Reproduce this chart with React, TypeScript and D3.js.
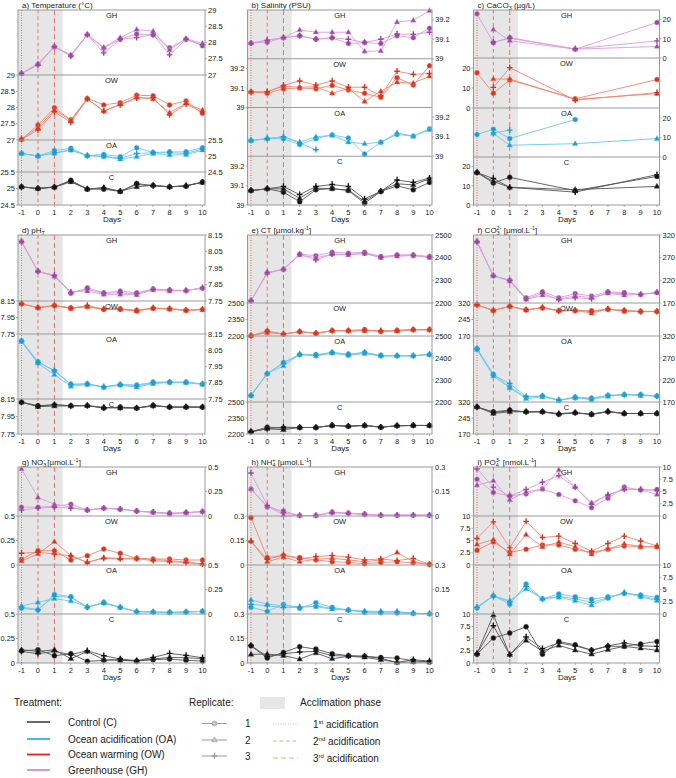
import React from "react";
import * as d3 from "d3";

// ---------- axes / categories ----------
const days = [-1, 0, 1, 2, 3, 4, 5, 6, 7, 8, 9, 10];
const daysCaCO3 = [-1, 0, 1, 5, 10];
const treatments = ["GH", "OW", "OA", "C"];
const replicateShapes = ["circle", "triangle", "plus"];

// ---------- a) Temperature ----------
const tempGH = [
  [27.05, 27.33, 27.87, 27.6, 28.24, 27.83, 28.1, 28.26, 28.23, 27.84, 28.1, 27.9],
  [27.05, 27.35, 27.87, 27.62, 28.24, 27.85, 28.15, 28.4, 28.35, 27.77, 28.12, 27.97],
  [27.05, 27.3, 27.87, 27.58, 28.24, 27.68, 28.1, 28.15, 28.25, 27.62, 28.1, 27.93],
];
const tempOW = [
  [27.02, 27.46, 27.99, 27.62, 28.28, 28.08, 28.15, 28.38, 28.36, 28.08, 28.2, 27.82],
  [27.02, 27.38, 27.92, 27.6, 28.26, 27.89, 28.1, 28.31, 28.26, 27.84, 28.13, 27.92],
  [27.02, 27.31, 27.87, 27.54, 28.26, 27.89, 28.08, 28.29, 28.3, 27.77, 28.1, 27.86],
];
const tempOA = [
  [25.08, 25.0, 25.17, 25.24, 25.01, 25.05, 24.98, 25.26, 25.11, 25.13, 25.13, 25.26],
  [25.08, 25.0, 25.08, 25.18, 25.01, 24.98, 24.9, 24.98, 25.08, 25.03, 25.04, 25.18],
  [25.08, 25.0, 25.1, 25.2, 25.01, 25.0, 24.93, 25.08, 25.1, 25.1, 25.08, 25.22],
];
const tempC = [
  [25.05, 25.0, 25.04, 25.25, 24.98, 24.98, 24.91, 25.15, 25.09, 25.05, 25.07, 25.2],
  [25.05, 25.0, 25.04, 25.2, 24.98, 25.03, 24.91, 25.05, 25.1, 25.05, 25.09, 25.18],
  [25.05, 25.0, 25.05, 25.22, 24.99, 25.01, 24.92, 25.12, 25.08, 25.05, 25.08, 25.19],
];
const tempTicksWarm = [29, 28.5, 28, 27.5, 27];
const tempTicksAmb = [25.5, 25, 24.5];

// ---------- b) Salinity ----------
const salGH = [
  [39.08, 39.085, 39.108, 39.118, 39.1, 39.108, 39.078, 39.083, 39.078, 39.118, 39.108, 39.157],
  [39.08, 39.095, 39.108, 39.148, 39.136, 39.136, 39.136, 39.038, 39.04, 39.188, 39.197, 39.247],
  [39.08, 39.095, 39.108, 39.118, 39.1, 39.108, 39.1, 39.083, 39.1, 39.127, 39.125, 39.136],
];
const salOW = [
  [39.08, 39.073, 39.096, 39.1, 39.096, 39.113, 39.09, 39.073, 39.052, 39.153, 39.115, 39.214],
  [39.08, 39.08, 39.11, 39.104, 39.107, 39.073, 39.098, 39.031, 39.083, 39.13, 39.125, 39.16],
  [39.08, 39.08, 39.113, 39.136, 39.115, 39.136, 39.104, 39.104, 39.06, 39.186, 39.17, 39.174],
];
const salOA = [
  [39.081, 39.09, 39.09, 39.06, 39.09, 39.11, 39.093, 39.012, 39.072, 39.112, 39.103, 39.141],
  [39.081, 39.09, 39.1, 39.072, 39.1, 39.107, 39.072, 39.064, 39.072, 39.12, 39.103, 39.136],
  [39.081, 39.09, 39.1, 39.068, 39.033, null, null, null, null, null, null, null],
];
const salC = [
  [39.074, 39.083, 39.066, 39.017, 39.078, 39.084, 39.074, 39.009, 39.069, 39.098, 39.078, 39.116],
  [39.074, 39.083, 39.083, 39.034, 39.086, 39.084, 39.076, 39.019, 39.072, 39.109, 39.103, 39.134],
  [39.074, 39.083, 39.095, 39.053, 39.095, 39.105, 39.095, 39.031, 39.07, 39.128, 39.116, 39.138],
];
const salTicks = [39.2, 39.1, 39];

// ---------- c) CaCO3 (days -1, 0, 1, 5, 10) ----------
const cacoGH = [
  [23, 8, 10.6, 4.6, 18.5],
  [null, 14.9, 9, 4.6, 6],
  [null, 8.2, 10.3, 4.8, 8.9],
];
const cacoOW = [
  [17.6, 7.4, 14, 4.6, 14.2],
  [null, 14.5, 14.5, 4.3, 7.2],
  [null, 10.3, 20.2, 3.9, 7.7],
];
const cacoOA = [
  [11.5, 14.2, 9.4, 19.1, null],
  [null, 12, 6, 6.8, 9.4],
  [null, 12.3, 13.7, null, null],
];
const cacoC = [
  [16.9, 11.5, 14.4, 7.5, 14.9],
  [16.9, 12.3, 9.2, 8, 9.7],
  [16.9, 13.8, 9.2, 6.7, 15.8],
];
const cacoTicks = [20, 10, 0];

// ---------- d) pH ----------
const phGH = [
  [8.11, 7.93, 7.9, 7.797, 7.83, 7.8, 7.81, 7.8, 7.823, 7.817, 7.813, 7.828],
  [8.11, 7.93, 7.9, 7.807, 7.81, 7.79, 7.79, 7.787, 7.817, 7.81, 7.813, 7.828],
  [8.11, 7.93, 7.906, 7.8, 7.82, 7.796, 7.8, 7.793, 7.82, 7.815, 7.813, 7.83],
];
const phOW = [
  [8.117, 8.068, 8.096, 8.068, 8.08, 8.047, 8.055, 8.039, 8.063, 8.055, 8.039, 8.047],
  [8.117, 8.068, 8.096, 8.058, 8.08, 8.055, 8.047, 8.026, 8.06, 8.05, 8.035, 8.045],
  [8.117, 8.07, 8.096, 8.063, 8.096, 8.05, 8.05, 8.032, 8.065, 8.058, 8.039, 8.05],
];
const phOA = [
  [8.109, 7.98, 7.923, 7.842, 7.844, 7.823, 7.84, 7.836, 7.854, 7.854, 7.854, 7.842],
  [8.103, 7.97, 7.899, 7.828, 7.838, 7.823, 7.835, 7.823, 7.844, 7.852, 7.85, 7.84],
  [8.105, 7.975, 7.925, 7.838, 7.842, 7.825, 7.838, 7.83, 7.85, 7.854, 7.852, 7.843],
];
const phC = [
  [8.114, 8.074, 8.082, 8.074, 8.074, 8.046, 8.058, 8.046, 8.078, 8.058, 8.058, 8.058],
  [8.114, 8.062, 8.07, 8.07, 8.074, 8.054, 8.046, 8.046, 8.07, 8.058, 8.058, 8.058],
  [8.114, 8.068, 8.086, 8.072, 8.074, 8.05, 8.052, 8.048, 8.074, 8.058, 8.058, 8.058],
];
const phTicksFine = [8.15, 8.05, 7.95, 7.85, 7.75];
const phTicksCoarse = [8.15, 7.95, 7.75];

// ---------- e) CT ----------
const ctGH = [
  [2210, 2333, 2348, 2415, 2409, 2424, 2420, 2424, 2405, 2412, 2412, 2405],
  [2210, 2333, 2351, 2412, 2400, 2415, 2412, 2418, 2400, 2406, 2409, 2400],
  [2210, 2333, 2348, 2415, 2390, 2415, 2415, 2420, 2402, 2410, 2410, 2403],
];
const ctOW = [
  [2203, 2246, 2218, 2240, 2224, 2249, 2249, 2258, 2240, 2252, 2258, 2258],
  [2203, 2230, 2218, 2238, 2224, 2246, 2246, 2246, 2249, 2243, 2255, 2255],
  [2203, 2240, 2218, 2240, 2226, 2249, 2249, 2252, 2245, 2248, 2258, 2258],
];
const ctOA = [
  [2230, 2329, 2380, 2416, 2416, 2425, 2418, 2425, 2412, 2410, 2410, 2416],
  [2230, 2329, 2364, 2416, 2409, 2422, 2412, 2420, 2409, 2410, 2410, 2416],
  [2230, 2329, 2375, 2416, 2412, 2425, 2415, 2425, 2410, 2410, 2410, 2416],
];
const ctC = [
  [2221, 2264, 2255, 2261, 2261, 2280, 2273, 2280, 2264, 2277, 2280, 2280],
  [2221, 2249, 2240, 2261, 2261, 2280, 2273, 2280, 2264, 2277, 2280, 2280],
  [2221, 2249, 2264, 2261, 2261, 2280, 2273, 2280, 2264, 2277, 2280, 2280],
];
const ctTicksFine = [2500, 2400, 2300, 2200];
const ctTicksCoarse = [2500, 2350, 2200];

// ---------- f) CO3 ----------
const co3GH = [
  [305, 230, 220, 181.5, 195, 181.5, 190.8, 185.4, 194.6, 193, 189, 193],
  [305, 230, 218, 177.7, 187, 179, 185.4, 182, 191.5, 187, 189, 193],
  [305, 230, 220, 179, 191, 177.5, 181.5, 179, 193, 190, 189, 193],
];
const co3OW = [
  [312, 286, 305, 289, 297, 285, 286, 285, 292, 286, 282, 282],
  [312, 286, 305, 287, 301, 285, 286, 274, 292, 282, 282, 282],
  [312, 286, 305, 289, 299, 283, 286, 280, 292, 286, 281, 280],
];
const co3OA = [
  [291.8, 233, 204, 181, 183.7, 174, 181.4, 179, 185, 186.8, 186.8, 183.7],
  [289, 229, 202, 177.6, 181.4, 174, 179, 175.3, 182.6, 186.8, 184.5, 183.7],
  [290.5, 231, 212, 182.6, 183.7, 174.5, 180, 177, 185, 186, 186, 183],
];
const co3C = [
  [297, 274, 282, 274, 274, 262, 269.5, 262, 274, 266, 266, 266],
  [297, 266, 274, 274, 274, 266, 269.5, 262, 277, 266, 266, 266],
  [297, 270, 279, 274, 274, 264, 269.5, 262, 275, 266, 266, 266],
];
const co3TicksFine = [320, 270, 220, 170];
const co3TicksCoarse = [320, 245, 170];

// ---------- g) NO3 ----------
const no3GH = [
  [0.09, 0.09, 0.1, 0.12, 0.06, 0.08, 0.07, 0.05, 0.04, 0.03, 0.035, 0.045],
  [0.48, 0.19, 0.12, 0.09, 0.06, 0.08, 0.07, 0.05, 0.035, 0.02, 0.03, 0.045],
  [0.06, 0.08, 0.09, 0.08, 0.06, 0.08, 0.07, 0.05, 0.04, 0.025, 0.035, 0.045],
];
const no3OW = [
  [0.058, 0.146, 0.146, 0.051, 0.095, 0.163, 0.119, 0.068, 0.061, 0.061, 0.051, 0.051],
  [0.041, 0.112, 0.238, 0.095, 0.027, 0.075, 0.068, 0.068, 0.058, 0.044, 0.034, 0.01],
  [0.12, 0.13, 0.112, 0.095, 0.027, 0.068, 0.061, 0.065, 0.044, 0.034, 0.024, 0.007],
];
const no3OA = [
  [0.058, 0.041, 0.2, 0.177, 0.068, 0.119, 0.068, 0.024, 0.02, 0.017, 0.02, 0.027],
  [0.082, 0.119, 0.156, 0.133, 0.075, 0.109, 0.068, 0.024, 0.02, 0.017, 0.02, 0.027],
  [0.07, 0.045, 0.18, 0.17, 0.068, 0.115, 0.068, 0.024, 0.02, 0.017, 0.02, 0.027],
];
const no3C = [
  [0.125, 0.135, 0.074, 0.095, 0.017, 0.027, 0.034, 0.02, 0.034, 0.04, 0.027, 0.02],
  [0.135, 0.118, 0.135, 0.044, 0.118, 0.034, 0.027, 0.02, 0.041, 0.057, 0.054, 0.044],
  [0.118, 0.095, 0.118, 0.085, 0.125, 0.074, 0.041, 0.024, 0.057, 0.098, 0.078, 0.054],
];
const no3Ticks = [0.5, 0.25, 0];

// ---------- h) NH4 ----------
const nh4GH = [
  [0.165, 0.055, 0.03, 0.003, 0.003, 0.025, 0.018, 0.012, 0.005, 0.005, 0.005, 0.005],
  [0.165, 0.06, 0.006, 0.003, 0.003, 0.02, 0.016, 0.01, 0.005, 0.005, 0.005, 0.005],
  [0.263, 0.065, 0.02, 0.003, 0.003, 0.02, 0.016, 0.01, 0.005, 0.005, 0.005, 0.005],
];
const nh4OW = [
  [0.29, 0.046, 0.058, 0.046, 0.031, 0.02, 0.016, 0.008, 0.016, 0.02, 0.014, 0.004],
  [0.145, 0.02, 0.048, 0.02, 0.035, 0.041, 0.031, 0.02, 0.031, 0.077, 0.02, 0.004],
  [0.145, 0.035, 0.062, 0.035, 0.052, 0.058, 0.048, 0.031, 0.037, 0.027, 0.04, 0.004],
];
const nh4OA = [
  [0.041, 0.016, 0.059, 0.035, 0.069, 0.041, 0.024, 0.01, 0.008, 0.006, 0.004, 0.002],
  [0.086, 0.061, 0.049, 0.045, 0.045, 0.029, 0.024, 0.018, 0.016, 0.016, 0.004, 0.002],
  [0.06, 0.05, 0.039, 0.04, 0.05, 0.035, 0.024, 0.014, 0.012, 0.012, 0.004, 0.002],
];
const nh4C = [
  [0.105, 0.03, 0.065, 0.1, 0.085, 0.057, 0.045, 0.041, 0.034, 0.03, 0.014, 0.006],
  [0.053, 0.055, 0.045, 0.024, 0.061, 0.026, 0.041, 0.035, 0.02, 0.004, 0.006, 0.006],
  [0.107, 0.04, 0.057, 0.067, 0.071, 0.045, 0.043, 0.041, 0.028, 0.004, 0.02, 0.012],
];
const nh4Ticks = [0.3, 0.15, 0];

// ---------- i) PO4 ----------
const po4GH = [
  [7.5, 4.8, 4.1, 4.5, 5.5, 4.4, 3.1, 1.7, 3.6, 5.9, 5.3, 5.4],
  [6.3, 7.2, 3.3, 4.9, 5.5, 9.4, 5.9, 2.7, 4.3, 5.5, 5.4, 4.4],
  [9.6, 5.9, 4.1, 5.4, 6.9, 8.2, 5.9, 2.4, 4.3, 5.4, 5.4, 5.2],
];
const po4OW = [
  [3.0, 4.7, 2.6, 3.2, 4.1, 4.1, 3.2, 2.6, 3.2, 3.9, 3.7, 3.7],
  [4.2, 5.2, 2.2, 6.2, 3.7, 4.7, 3.7, 2.2, 3.3, 4.3, 3.8, 3.7],
  [5.4, 8.8, 3.5, 8.9, 5.6, 5.9, 4.4, 2.8, 4.4, 5.9, 4.9, 3.9],
];
const po4OA = [
  [1.2, 3.7, 2.0, 6.1, 3.1, 4.1, 3.5, 3.0, 3.5, 4.2, 3.9, 3.4],
  [1.5, 3.7, 2.7, 5.1, 3.1, 3.4, 2.7, 1.8, 3.2, 4.4, 3.5, 2.7],
  [1.35, 3.7, 2.5, 5.6, 3.0, 3.6, 3.1, 2.4, 3.3, 4.3, 3.7, 3.0],
];
const po4C = [
  [1.8, 5.1, 6.1, 7.4, 1.8, 4.4, 3.7, 2.6, 3.4, 3.4, 3.9, 4.4],
  [1.9, 9.8, 1.7, 4.6, 2.4, 3.6, 2.6, 1.8, 2.7, 3.4, 3.0, 2.6],
  [1.9, 7.6, 1.7, 5.3, 2.9, 4.1, 3.5, 2.6, 3.5, 4.1, 3.5, 3.4],
];
const po4Ticks = [10, 7.5, 5, 2.5, 0];

// ---------- legend ----------
const treatmentLegend = [
  { key: "C", label: "Control (C)" },
  { key: "OA", label: "Ocean acidification (OA)" },
  { key: "OW", label: "Ocean warming (OW)" },
  { key: "GH", label: "Greenhouse (GH)" },
];
const replicateLabels = ["1", "2", "3"];
const acidDays = [-1, 0, 1];
const acidLabels = [["1", "st"], ["2", "nd"], ["3", "rd"]];

// ---------- styling ----------
const FONT = "'Liberation Sans', Arial, Helvetica, sans-serif";
const COLORS: Record<string, { line: string; mark: string; legend: string }> = {
  C: { line: "#555555", mark: "#121212", legend: "#585858" },
  OA: { line: "#6cc7ea", mark: "#1c9dd2", legend: "#27b4e9" },
  OW: { line: "#ee8672", mark: "#d5361f", legend: "#e8241c" },
  GH: { line: "#d99cdb", mark: "#9c489e", legend: "#d28bd5" },
};
const ACID_COLOR = "#ec6e6e";
const ACID_DASH = ["1,1.5", "3.5,3", "5,3"];
const GRID = "#9a9a9a";
const COLS: [number, number][] = [[18, 205], [247.5, 432], [473.5, 659.5]];
const ROW_TOPS = [10, 235, 467];

type Series = (number | null)[][];
type Sub = { key: string; domain: [number, number]; ticks: number[]; h: number };
type Seg = [string, "n" | "sub" | "sup" | "stack"];
type PanelDef = {
  title: Seg[];
  col: number;
  row: number;
  xs: number[];
  data: Record<string, Series>;
  subs: Sub[];
};

const SMALL = 5.5;
const OFFSET: Record<string, number> = { n: 0, sub: 2, sup: -3, stack: -3 };

function RichText({ segs, x, y, size }: { segs: Seg[]; x: number; y: number; size: number }) {
  let cur = 0;
  return (
    <text x={x} y={y} fontSize={size} fill="#222">
      {segs.map(([t, mode], i) => {
        const target = OFFSET[mode];
        const dy = target - cur;
        cur = target;
        return (
          <tspan key={i} dy={dy} dx={mode === "stack" ? -3.1 : 0} fontSize={mode === "n" ? size : SMALL}>
            {t}
          </tspan>
        );
      })}
    </text>
  );
}

const mk = (gh: Series, ow: Series, oa: Series, c: Series): Record<string, Series> => ({ GH: gh, OW: ow, OA: oa, C: c });

const panels: PanelDef[] = [
  {
    title: [["a) Temperature (°C)", "n"]], col: 0, row: 0, xs: days,
    data: mk(tempGH, tempOW, tempOA, tempC),
    subs: [
      { key: "GH", domain: [27, 29], ticks: tempTicksWarm, h: 65 },
      { key: "OW", domain: [27, 29], ticks: tempTicksWarm, h: 65 },
      { key: "OA", domain: [24.5, 25.5], ticks: tempTicksAmb, h: 32 },
      { key: "C", domain: [24.5, 25.5], ticks: tempTicksAmb, h: 33 },
    ],
  },
  {
    title: [["b) Salinity (PSU)", "n"]], col: 1, row: 0, xs: days,
    data: mk(salGH, salOW, salOA, salC),
    subs: treatments.map((k) => ({ key: k, domain: [39, 39.25] as [number, number], ticks: salTicks, h: 48.75 })),
  },
  {
    title: [["c) CaCO", "n"], ["3", "sub"], [" (µg/L)", "n"]], col: 2, row: 0, xs: daysCaCO3,
    data: mk(cacoGH, cacoOW, cacoOA, cacoC),
    subs: [
      { key: "GH", domain: [0, 25], ticks: cacoTicks, h: 48 },
      { key: "OW", domain: [0, 25], ticks: cacoTicks, h: 50 },
      { key: "OA", domain: [0, 25], ticks: cacoTicks, h: 49 },
      { key: "C", domain: [0, 25], ticks: cacoTicks, h: 48 },
    ],
  },
  {
    title: [["d) pH", "n"], ["T", "sub"]], col: 0, row: 1, xs: days,
    data: mk(phGH, phOW, phOA, phC),
    subs: [
      { key: "GH", domain: [7.75, 8.15], ticks: phTicksFine, h: 66 },
      { key: "OW", domain: [7.75, 8.15], ticks: phTicksCoarse, h: 33 },
      { key: "OA", domain: [7.75, 8.15], ticks: phTicksFine, h: 65 },
      { key: "C", domain: [7.75, 8.15], ticks: phTicksCoarse, h: 35 },
    ],
  },
  {
    title: [["e) CT [µmol.kg", "n"], ["-1", "sup"], ["]", "n"]], col: 1, row: 1, xs: days,
    data: mk(ctGH, ctOW, ctOA, ctC),
    subs: [
      { key: "GH", domain: [2200, 2500], ticks: ctTicksFine, h: 68 },
      { key: "OW", domain: [2200, 2500], ticks: ctTicksCoarse, h: 33 },
      { key: "OA", domain: [2200, 2500], ticks: ctTicksFine, h: 66 },
      { key: "C", domain: [2200, 2500], ticks: ctTicksCoarse, h: 32 },
    ],
  },
  {
    title: [["f) CO", "n"], ["3", "sub"], ["2-", "stack"], [" [µmol.L", "n"], ["-1", "sup"], ["]", "n"]], col: 2, row: 1, xs: days,
    data: mk(co3GH, co3OW, co3OA, co3C),
    subs: [
      { key: "GH", domain: [170, 320], ticks: co3TicksFine, h: 68 },
      { key: "OW", domain: [170, 320], ticks: co3TicksCoarse, h: 33 },
      { key: "OA", domain: [170, 320], ticks: co3TicksFine, h: 66 },
      { key: "C", domain: [170, 320], ticks: co3TicksCoarse, h: 32 },
    ],
  },
  {
    title: [["g) NO", "n"], ["3", "sub"], ["-", "stack"], [" [µmol.L", "n"], ["-1", "sup"], ["]", "n"]], col: 0, row: 2, xs: days,
    data: mk(no3GH, no3OW, no3OA, no3C),
    subs: treatments.map((k) => ({ key: k, domain: [0, 0.5] as [number, number], ticks: no3Ticks, h: 49 })),
  },
  {
    title: [["h) NH", "n"], ["4", "sub"], ["+", "stack"], [" [µmol.L", "n"], ["-1", "sup"], ["]", "n"]], col: 1, row: 2, xs: days,
    data: mk(nh4GH, nh4OW, nh4OA, nh4C),
    subs: treatments.map((k) => ({ key: k, domain: [0, 0.3] as [number, number], ticks: nh4Ticks, h: 49 })),
  },
  {
    title: [["i) PO", "n"], ["4", "sub"], ["3-", "stack"], [" [nmol.L", "n"], ["-1", "sup"], ["]", "n"]], col: 2, row: 2, xs: days,
    data: mk(po4GH, po4OW, po4OA, po4C),
    subs: treatments.map((k) => ({ key: k, domain: [0, 10] as [number, number], ticks: po4Ticks, h: 49 })),
  },
];

function Marker({ shape, x, y, fill, stroke }: { shape: string; x: number; y: number; fill: string; stroke: string }) {
  if (shape === "circle") {
    return <circle cx={x} cy={y} r={2.5} fill={fill} stroke={stroke} strokeWidth={0.5} />;
  }
  if (shape === "triangle") {
    const p = d3.path();
    p.moveTo(x, y - 3.1);
    p.lineTo(x + 2.8, y + 1.8);
    p.lineTo(x - 2.8, y + 1.8);
    p.closePath();
    return <path d={p.toString()} fill={fill} stroke={stroke} strokeWidth={0.5} />;
  }
  return (
    <path d={`M${x - 2.8},${y}H${x + 2.8}M${x},${y - 3.2}V${y + 2.8}`} stroke={fill} strokeWidth={1.4} fill="none" />
  );
}

function Panel({ p }: { p: PanelDef }) {
  const [x0, x1] = COLS[p.col];
  const top = ROW_TOPS[p.row];
  const x = d3.scaleLinear().domain([-1, 10]).range([x0 + 3.5, x1 - 2.5]);
  let acc = top;
  const subs = p.subs.map((s, i) => {
    const yTop = acc;
    acc += s.h;
    const yBot = acc;
    return {
      ...s,
      yTop,
      yBot,
      side: i % 2 === 0 ? "right" : "left",
      y: d3.scaleLinear().domain(s.domain).range([yBot, yTop]),
    };
  });
  const bottom = acc;
  const cx = (x0 + x1) / 2;

  return (
    <g>
      <RichText segs={p.title} x={x0 + 4} y={top - 2.5} size={8} />
      <rect x={x0} y={top} width={x(1.5) - x0} height={bottom - top} fill="#e6e6e6" />
      {acidDays.map((d, i) => (
        <line key={i} x1={x(d)} x2={x(d)} y1={top} y2={bottom} stroke={ACID_COLOR} strokeWidth={1} strokeDasharray={ACID_DASH[i]} />
      ))}
      {subs.map((s) => {
        const col = COLORS[s.key];
        const series = p.data[s.key];
        const line = d3
          .line<number | null>()
          .defined((v) => v != null)
          .x((_, i) => x(p.xs[i]))
          .y((v) => s.y(v as number));
        return (
          <g key={s.key}>
            {series.map((rep, r) => (
              <path key={r} d={line(rep) || ""} fill="none" stroke={col.line} strokeWidth={0.9} />
            ))}
            {series.map((rep, r) =>
              rep.map((v, i) =>
                v == null ? null : (
                  <Marker key={r + "-" + i} shape={replicateShapes[r]} x={x(p.xs[i])} y={s.y(v)} fill={col.mark} stroke={col.line} />
                )
              )
            )}
          </g>
        );
      })}
      <rect x={x0} y={top} width={x1 - x0} height={bottom - top} fill="none" stroke={GRID} strokeWidth={1} />
      {subs.map((s, i) => (
        <g key={"ax" + s.key}>
          {i > 0 ? <line x1={x0} x2={x1} y1={s.yTop} y2={s.yTop} stroke={GRID} strokeWidth={1} /> : null}
          <text x={cx} y={s.yTop + 8} fontSize={7.5} textAnchor="middle" fill="#222">{s.key}</text>
          {s.ticks.map((t) => {
            const yy = s.y(t);
            const right = s.side === "right";
            return (
              <g key={t}>
                <line x1={right ? x1 : x0 - 2} x2={right ? x1 + 2 : x0} y1={yy} y2={yy} stroke={GRID} strokeWidth={0.8} />
                <text x={right ? x1 + 3 : x0 - 3} y={yy + 2.7} fontSize={7.5} textAnchor={right ? "start" : "end"} fill="#222">
                  {String(t)}
                </text>
              </g>
            );
          })}
        </g>
      ))}
      {days.map((d) => (
        <g key={"xt" + d}>
          <line x1={x(d)} x2={x(d)} y1={bottom} y2={bottom + 2} stroke={GRID} strokeWidth={0.8} />
          <text x={x(d)} y={bottom + 9.5} fontSize={7.5} textAnchor="middle" fill="#222">{String(d)}</text>
        </g>
      ))}
      <text x={x(4.5)} y={bottom + 17} fontSize={8} textAnchor="middle" fill="#222">Days</text>
    </g>
  );
}

function Legend() {
  const ty = [722, 739, 754.5, 770];
  const ry = [723.5, 740, 756];
  const ay = [724, 741, 758];
  return (
    <g fontSize={10} fill="#222">
      <text x={14} y={705.5}>Treatment:</text>
      {treatmentLegend.map((t, i) => (
        <g key={t.key}>
          <line x1={27} x2={50} y1={ty[i]} y2={ty[i]} stroke={COLORS[t.key].legend} strokeWidth={1.8} />
          <text x={68} y={ty[i] + 3.5}>{t.label}</text>
        </g>
      ))}
      <text x={189} y={705.5}>Replicate:</text>
      {replicateLabels.map((lab, i) => (
        <g key={lab}>
          <line x1={202} x2={227} y1={ry[i]} y2={ry[i]} stroke="#8f8f8f" strokeWidth={0.9} />
          <Marker shape={replicateShapes[i]} x={214.5} y={ry[i]} fill={i === 2 ? "#9a9a9a" : "#c4c4c4"} stroke="#8a8a8a" />
          <text x={245} y={ry[i] + 3.5}>{lab}</text>
        </g>
      ))}
      <rect x={260} y={697} width={25} height={12} fill="#e6e6e6" />
      <text x={300} y={705.5}>Acclimation phase</text>
      {acidLabels.map((lab, i) => (
        <g key={i}>
          <line x1={273} x2={298} y1={ay[i]} y2={ay[i]} stroke="#f0a0a0" strokeWidth={1} strokeDasharray={ACID_DASH[i]} />
          <text x={313} y={ay[i] + 3.5}>
            {lab[0]}
            <tspan dy={-3.5} fontSize={6}>{lab[1]}</tspan>
            <tspan dy={3.5}> acidification</tspan>
          </text>
        </g>
      ))}
    </g>
  );
}

export default function App() {
  return (
    <svg width={676} height={778} style={{ display: "block", position: "absolute", left: 0, top: 0, fontFamily: FONT }}>
      <rect width={676} height={778} fill="#ffffff" />
      <g fontFamily={FONT}>
        {panels.map((p, i) => (
          <Panel key={i} p={p} />
        ))}
        <Legend />
      </g>
    </svg>
  );
}
